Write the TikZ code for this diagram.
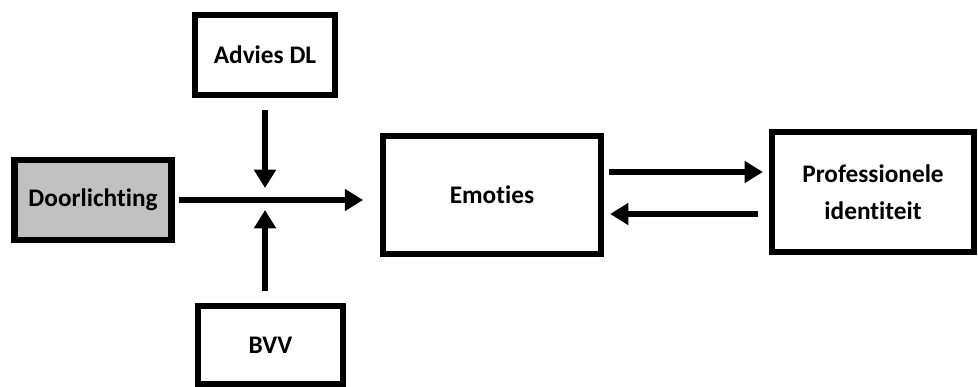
\documentclass[tikz,border=0pt]{standalone}
\usepackage{fontspec}
\setmainfont{Carlito}[Ligatures=NoCommon]
\usepackage{xcolor}
\definecolor{dlgray}{RGB}{192,192,192}
\usepackage{tikz}
\usetikzlibrary{arrows.meta, positioning, calc}

\begin{document}
\begin{tikzpicture}[x=0.025cm, y=-0.025cm,
  box/.style={rectangle, draw=black, line width=4.4pt, fill=white,
              font=\fontsize{18}{26}\selectfont\bfseries, align=center,
              inner sep=0pt},
  arr/.style={-{Triangle[length=13pt, width=15pt]}, line width=4.6pt, draw=black}
]
\useasboundingbox (0,0) rectangle (978,387);

% Boxes
\node[box, fill=dlgray, minimum width=157*0.025cm, minimum height=80*0.025cm] (door) at (93,200) {Doorlichting};
\node[box, minimum width=140*0.025cm, minimum height=80*0.025cm] (adv) at (265,55) {Advies DL};
\node[box, minimum width=145*0.025cm, minimum height=78*0.025cm] (bvv) at (270.5,345) {BVV};
\node[box, minimum width=218*0.025cm, minimum height=118*0.025cm] (emo) at (492,195) {Emoties};
\node[box, minimum width=202*0.025cm, minimum height=120*0.025cm] (prof) at (873,192) {Professionele\\identiteit};

% Where the side arrows meet the main line
\coordinate (junction) at (265,200);

% Main line
\draw[arr, shorten <=0.1cm, shorten >=0.42cm] (door.east |- junction) -- (emo.west |- junction);

% Side influences
\draw[arr, shorten <=0.3cm, shorten >=0.3cm] (junction |- adv.south) -- (junction);
\draw[arr, shorten <=0.3cm, shorten >=0.25cm] (junction |- bvv.north) -- (junction);

% Two-way link
\draw[arr, shorten <=0.125cm, shorten >=0.15cm] ([yshift=0.575cm]emo.east) -- ([yshift=0.575cm]emo.east -| prof.west);
\draw[arr, shorten <=0.275cm, shorten >=0.15cm] ([yshift=-0.475cm]emo.east -| prof.west) -- ([yshift=-0.475cm]emo.east);
\end{tikzpicture}
\end{document}
